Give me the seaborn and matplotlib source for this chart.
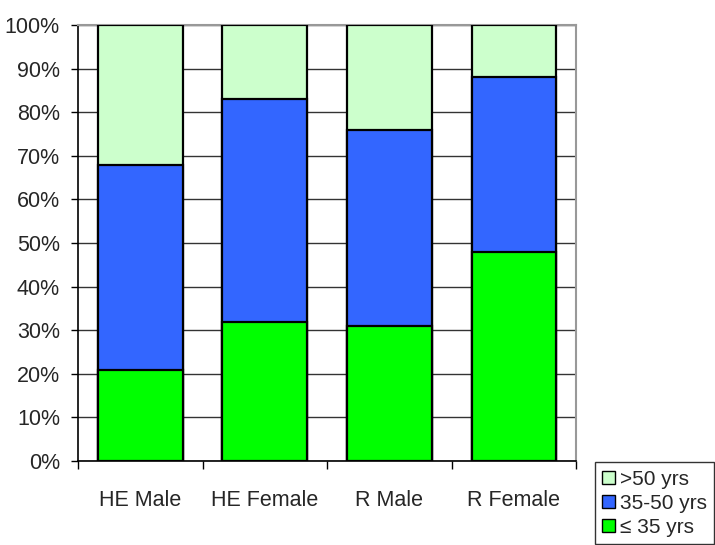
import matplotlib
matplotlib.use("Agg")
import matplotlib.pyplot as plt
import seaborn as sns
import pandas as pd
import numpy as np
from matplotlib.patches import Patch
from matplotlib.ticker import FixedLocator, PercentFormatter

categories = ["HE Male", "HE Female", "R Male", "R Female"]
under_35 = [21, 32, 31, 48]
age_35_50 = [47, 51, 45, 40]
over_50 = [32, 17, 24, 12]
series_labels = [">50 yrs", "35-50 yrs", "\u2264 35 yrs"]
colors = {"\u2264 35 yrs": "#00ff00", "35-50 yrs": "#3366ff", ">50 yrs": "#ccffcc"}

sns.set_theme(style="white")
plt.rcParams["font.family"] = ["Liberation Sans", "DejaVu Sans"]

df = pd.DataFrame({
    "group": categories,
    "low": np.array(under_35),
    "mid": np.array(under_35) + np.array(age_35_50),
    "top": np.array(under_35) + np.array(age_35_50) + np.array(over_50),
})

fig = plt.figure(figsize=(7.15, 5.45), dpi=100)
ax = fig.add_axes([0.109, 0.154, 0.697, 0.8])

# stacked bars: draw cumulative totals from tallest to shortest
for col, name in [("top", ">50 yrs"), ("mid", "35-50 yrs"), ("low", "\u2264 35 yrs")]:
    sns.barplot(data=df, x="group", y=col, color=colors[name], edgecolor="black",
                linewidth=1.6, width=0.68, saturation=1, ax=ax, zorder=3)

ax.set_xlim(-0.5, 3.5)
ax.set_ylim(0, 100)
ax.set_yticks(np.arange(0, 101, 10))
ax.yaxis.set_major_formatter(PercentFormatter(decimals=0))
ax.set_xlabel("")
ax.set_ylabel("")
ax.grid(axis="y", color="#333333", linewidth=1, zorder=0)
ax.set_axisbelow(True)

for side in ["left", "bottom"]:
    ax.spines[side].set_color("black")
    ax.spines[side].set_linewidth(1.2)
for side in ["top", "right"]:
    ax.spines[side].set_color("#999999")
    ax.spines[side].set_linewidth(1.5)

ax.tick_params(axis="y", which="major", left=True, length=5, width=1, color="black",
               pad=8, labelsize=15.5)
ax.tick_params(axis="x", which="major", bottom=False, length=0, pad=21, labelsize=15.5)
ax.xaxis.set_minor_locator(FixedLocator([-0.5, 0.5, 1.5, 2.5, 3.5]))
ax.tick_params(axis="x", which="minor", bottom=True, length=6, width=1, color="black")

handles = [Patch(facecolor=colors[n], edgecolor="black", linewidth=1) for n in series_labels]
leg = fig.legend(handles, series_labels, loc="lower right", bbox_to_anchor=(0.999, 0.001),
                 frameon=True, fancybox=False, edgecolor="black", fontsize=15,
                 handlelength=0.6, handleheight=0.6, handletextpad=0.25,
                 labelspacing=0.25, borderpad=0.35, borderaxespad=0)
leg.get_frame().set_linewidth(1)

fig.savefig("out.png", dpi=100, facecolor="white")
